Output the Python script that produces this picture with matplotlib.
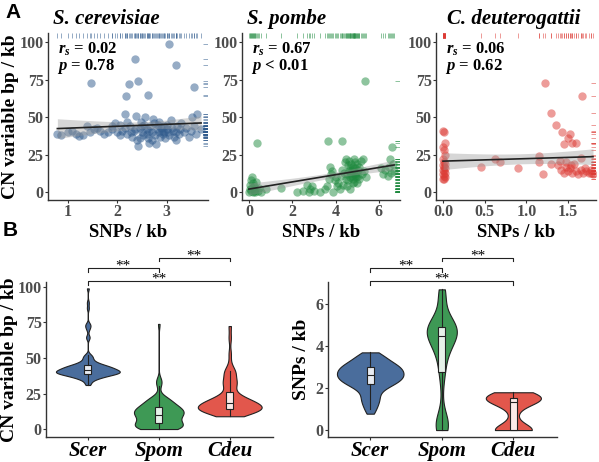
import numpy as np
import matplotlib
matplotlib.use('Agg')
import matplotlib.pyplot as plt

plt.rcParams['font.family'] = 'Liberation Serif'
plt.rcParams['font.weight'] = 'bold'
plt.rcParams['axes.labelweight'] = 'bold'
plt.rcParams['mathtext.fontset'] = 'custom'
plt.rcParams['mathtext.it'] = 'Liberation Serif:italic:bold'
plt.rcParams['mathtext.rm'] = 'Liberation Serif:bold'
plt.rcParams['mathtext.bf'] = 'Liberation Serif:bold'

# ---- data (SNPs / kb, CN variable bp / kb) ----
scer_snp = [3.04, 2.35, 3.18, 1.47, 2.24, 2.41, 3.55, 2.18, 2.63, 2.16, 3.62, 3.52,
            0.78, 0.85, 1.00, 1.08, 1.15, 1.22, 1.30, 1.38, 1.45, 1.52,
            1.58, 1.65, 1.72, 1.80, 1.88, 1.95, 2.00, 2.05, 2.10, 2.15,
            2.20, 2.25, 2.30, 2.33, 2.38, 2.40, 2.42, 2.45, 2.48, 2.50,
            2.52, 2.55, 2.57, 2.60, 2.62, 2.65, 2.67, 2.70, 2.72, 2.74,
            2.76, 2.78, 2.80, 2.82, 2.84, 2.86, 2.88, 2.90, 2.92, 2.95,
            2.97, 3.00, 3.02, 3.05, 3.08, 3.10, 3.12, 3.15, 3.18, 3.20,
            3.22, 3.25, 3.28, 3.30, 3.35, 3.40, 3.45, 3.50, 3.55, 3.60,
            3.70, 2.35, 2.60, 2.70, 2.85, 2.95, 3.00, 2.50, 2.45, 2.28,
            2.65, 1.90, 2.05, 2.20]
scer_cn = [99, 89, 85, 73, 72, 74, 70, 64, 65, 52, 52, 50,
           39, 38.5, 40, 41, 39, 37.5, 38, 44, 40, 42,
           43, 41, 39, 40, 42, 46, 40, 38, 41, 43,
           39, 44, 37, 41, 51, 35, 31, 43, 47, 40,
           38, 45, 50, 42, 36, 33, 44, 40, 49, 46,
           38, 32, 42, 45, 40, 37, 43, 41, 39, 44,
           36, 42, 40, 38, 48, 43, 41, 37, 40, 35,
           44, 39, 42, 46, 40, 43, 37, 41, 44, 39,
           42, 42, 39, 35, 47, 40, 45, 44, 36, 40,
           41, 44, 45, 47]

spom_snp = [0.00, 0.03, 0.06, 0.08, 0.10, 0.12, 0.15, 0.18, 0.20, 0.22,
            0.25, 0.28, 0.30, 0.33, 0.37, 0.40, 0.45, 0.55,
            0.80, 1.47, 2.20, 2.50, 2.70, 2.75,
            2.80, 2.90, 3.00, 3.30, 3.50, 3.60, 3.64, 3.70, 3.75, 3.80,
            3.85, 3.90, 3.95, 4.00, 4.05, 4.10, 4.20, 4.25, 4.29, 4.30,
            4.35, 4.40, 4.45, 4.48,
            4.50, 4.52, 4.54, 4.56, 4.58, 4.60, 4.62, 4.64, 4.66, 4.68,
            4.70, 4.72, 4.74, 4.76, 4.78, 4.80, 4.82, 4.84, 4.85, 4.86,
            4.87, 4.88, 4.89, 4.90,
            4.92, 4.95, 4.98, 5.00, 5.02, 5.05, 5.08, 5.10, 5.15, 5.20,
            5.25, 5.30, 5.35, 5.40, 6.10, 6.20, 6.30, 6.40, 6.45, 6.50,
            6.55, 6.60, 6.65, 6.70]
spom_cn = [0, 2, 5, 8, 1, 10, 3, 0, 6, 1,
           4, 0, 2, 7, 33, 1, 3, 0,
           2, 3, 0, 1, 5, 0,
           2, 4, 1, 0, 2, 4, 34, 9, 17, 12,
           14, 0, 8, 10, 4, 6, 2, 11, 34, 15,
           5, 13, 20, 9,
           22, 12, 4, 18, 8, 14, 21, 16, 10, 2,
           13, 19, 11, 15, 6, 17, 9, 22, 12, 14,
           7, 20, 11, 16,
           10, 13, 19, 6, 15, 11, 17, 9, 21, 12,
           22, 14, 74, 10, 16, 12, 15, 11, 17, 22,
           13, 30, 19, 14]

cdeu_snp = [0.00, 0.01, 0.02, 0.00, 0.01, 0.02, 0.00, 0.01, 0.02, 0.00,
            0.01, 0.02, 0.00, 0.01, 0.02, 0.00, 0.01, 0.02, 0.00, 0.01,
            0.45, 0.62, 0.68, 0.90, 1.15, 1.15, 1.20, 1.30,
            1.22, 1.67, 1.30, 1.35, 1.43, 1.45, 1.50, 1.52, 1.55, 1.60,
            1.65, 1.72, 1.75, 1.38, 1.42, 1.45, 1.47, 1.50, 1.52, 1.55,
            1.57, 1.60, 1.62, 1.65, 1.68, 1.70, 1.78, 1.78, 1.80, 1.48,
            1.53, 1.40]
cdeu_cn = [41, 40, 33, 30, 28, 25, 22, 20, 19, 18,
           17, 16, 15, 14, 13, 12, 11, 10, 9, 9,
           17, 22.5, 20, 16.5, 24, 20, 12.5, 19,
           72.5, 64, 53, 45, 40, 32, 36, 39, 33, 33,
           23, 14, 13, 18, 15, 13, 17, 14, 16, 13,
           19, 14, 12, 15, 13, 16, 13, 15, 12, 20,
           18, 21]

species = ['Scer', 'Spom', 'Cdeu']
titles = ['S. cerevisiae', 'S. pombe', 'C. deuterogattii']
rs_labels = ['0.02', '0.67', '0.06']
p_labels = ['= 0.78', '< 0.01', '= 0.62']
point_cols = ['#2F5A8C', '#1F8A3F', '#DC3B35']
violin_cols = ['#4A6D9C', '#3E9955', '#E2574C']

W, H = 599, 462
fig = plt.figure(figsize=(W / 100, H / 100), dpi=100)


def px_axes(l, t, r, b):
    return fig.add_axes([l / W, 1 - b / H, (r - l) / W, (b - t) / H])


def style_axes(ax):
    for s in ['top', 'right']:
        ax.spines[s].set_visible(False)
    for s in ['left', 'bottom']:
        ax.spines[s].set_color('#333333')
        ax.spines[s].set_linewidth(1.0)
    ax.tick_params(length=2.5, width=0.8, color='#333333', labelsize=11.5,
                   labelcolor='#4D4D4D', pad=0.6)


def nrd0(kde):
    # R's default bandwidth, expressed as a factor of the sd
    d = kde.dataset.ravel()
    sd = d.std(ddof=1)
    q75, q25 = np.percentile(d, [75, 25])
    lo = min(sd, (q75 - q25) / 1.34) if q75 > q25 else sd
    return 0.9 * lo * len(d) ** -0.2 / sd


def scatter_panel(ax, x, y, col):
    x = np.asarray(x, float)
    y = np.asarray(y, float)
    ax.scatter(x, y, s=36, color=col, alpha=0.5, linewidths=0, zorder=2)
    b, a = np.polyfit(x, y, 1)
    xs = np.linspace(x.min(), x.max(), 80)
    n = len(x)
    s = np.sqrt(np.sum((y - (a + b * x)) ** 2) / (n - 2))
    sxx = np.sum((x - x.mean()) ** 2)
    se = s * np.sqrt(1 / n + (xs - x.mean()) ** 2 / sxx)
    fit = a + b * xs
    ax.fill_between(xs, fit - 1.98 * se, fit + 1.98 * se, color='#999999',
                    alpha=0.4, lw=0, zorder=3)
    ax.plot(xs, fit, color='#222222', lw=1.2, zorder=4)
    # rugs on top and right
    ax.vlines(x, 0.97, 1.0, transform=ax.get_xaxis_transform(), color=col,
              lw=0.6, alpha=0.6)
    ax.hlines(y, 0.97, 1.0, transform=ax.get_yaxis_transform(), color=col,
              lw=0.6, alpha=0.6)


# ---- panel A ----
snp_all = [scer_snp, spom_snp, cdeu_snp]
cn_all = [scer_cn, spom_cn, cdeu_cn]
a_boxes = [(48, 33, 208, 200), (242, 33, 400, 200), (436, 33, 596, 200)]
a_xlims = [(0.59, 3.84), (-0.32, 6.97), (-0.084, 1.836)]
a_xticks = [[1, 2, 3], [0, 2, 4, 6], [0, 0.5, 1.0, 1.5]]
a_xticklabels = [['1', '2', '3'], ['0', '2', '4', '6'], ['0.0', '0.5', '1.0', '1.5']]
title_x = [106, 287, 514]

for i in range(3):
    ax = px_axes(*a_boxes[i])
    style_axes(ax)
    scatter_panel(ax, snp_all[i], cn_all[i], point_cols[i])
    ax.set_xlim(*a_xlims[i])
    ax.set_ylim(-5, 106)
    ax.set_yticks([0, 25, 50, 75, 100])
    ax.set_xticks(a_xticks[i])
    ax.set_xticklabels(a_xticklabels[i])
    ax.set_xlabel('SNPs / kb', fontsize=13.5, labelpad=3)
    if i == 0:
        ax.set_ylabel('CN variable bp / kb', fontsize=14)
        ax.yaxis.set_label_coords(-0.18, 0.5)
    ax.text(0.065, 0.905, r'$r_s$ = ' + rs_labels[i], transform=ax.transAxes,
            fontsize=12, va='center', ha='left')
    ax.text(0.055, 0.80, r'$p$ ' + p_labels[i], transform=ax.transAxes,
            fontsize=12, va='center', ha='left')
    fig.text(title_x[i] / W, 1 - 19 / H, titles[i], ha='center', va='center',
             fontsize=15, style='italic', weight='bold')

# ---- panel B ----
b_boxes = [(46, 282, 273, 437), (328, 282, 557, 437)]
b_data = [cn_all, snp_all]
b_widths = [[0.9, 0.7, 0.9], [0.93, 0.42, 0.77]]
b_ylims = [(-5.6, 103.5), (-0.33, 7.05)]
b_yticks = [[0, 25, 50, 75, 100], [0, 2, 4, 6]]
b_ylabels = ['CN variable bp / kb', 'SNPs / kb']
b_label_x = [-0.125, -0.078]
brackets = [(1, 3, 1.006), (1, 2, 1.090), (2, 3, 1.155)]

for j in range(2):
    ax = px_axes(*b_boxes[j])
    style_axes(ax)
    data = [np.asarray(d, float) for d in b_data[j]]
    vp = ax.violinplot(data, positions=[1, 2, 3], widths=b_widths[j],
                       showextrema=False, bw_method=nrd0, points=400)
    for body, c in zip(vp['bodies'], violin_cols):
        body.set_facecolor(c)
        body.set_edgecolor('#222222')
        body.set_linewidth(0.8)
        body.set_alpha(1)
    ax.boxplot(data, positions=[1, 2, 3], widths=0.1, patch_artist=True,
               showfliers=False, showcaps=False,
               boxprops=dict(facecolor=(1, 1, 1, 0.88), edgecolor='#222222', lw=0.8),
               medianprops=dict(color='#222222', lw=0.8),
               whiskerprops=dict(color='#222222', lw=0.8))
    ax.set_xlim(0.41, 3.61)
    ax.set_ylim(*b_ylims[j])
    ax.set_yticks(b_yticks[j])
    ax.set_xticks([1, 2, 3])
    ax.set_xticklabels(species, fontsize=15, style='italic', color='black')
    ax.set_ylabel(b_ylabels[j], fontsize=14)
    ax.yaxis.set_label_coords(b_label_x[j], 0.5)
    tr = ax.get_xaxis_transform()
    tick = 3.5 / 155
    for x1, x2, yl in brackets:
        ax.plot([x1, x1, x2, x2], [yl - tick, yl, yl, yl - tick], color='#222222',
                lw=0.8, transform=tr, clip_on=False)
        ax.text((x1 + x2) / 2, yl - 0.012, '**', transform=tr, ha='center',
                va='baseline', fontsize=11, fontweight='normal')

fig.text(13 / W, 1 - 13 / H, 'A', family='Liberation Sans', fontsize=15,
         weight='bold', ha='center', va='center')
fig.text(10 / W, 1 - 231 / H, 'B', family='Liberation Sans', fontsize=15,
         weight='bold', ha='center', va='center')

fig.savefig('out.png', dpi=100)
